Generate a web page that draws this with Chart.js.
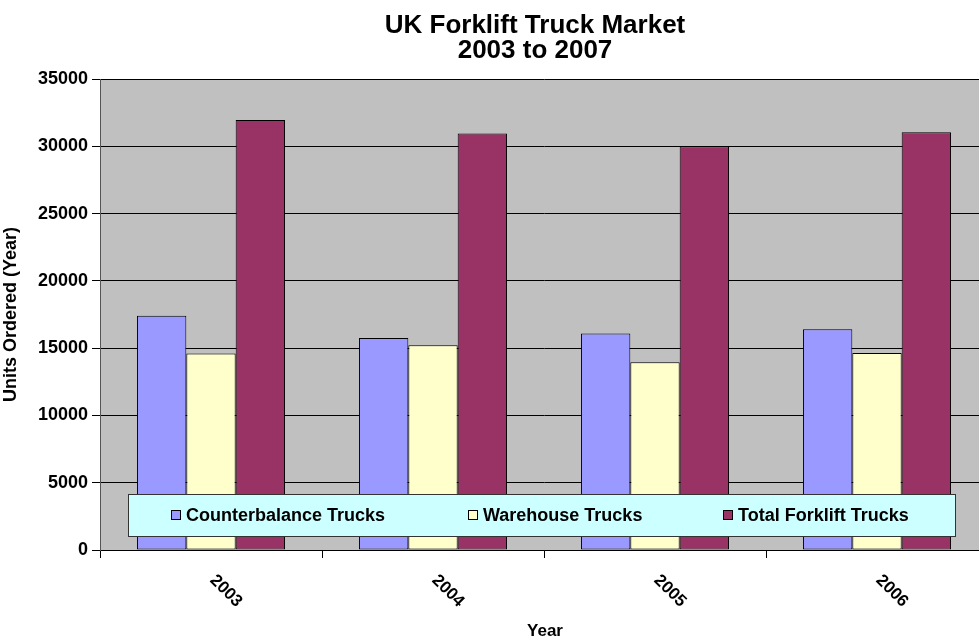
<!DOCTYPE html>
<html>
<head>
<meta charset="utf-8">
<script src="https://cdn.jsdelivr.net/npm/chart.js@4.4.1/dist/chart.umd.min.js"></script>
<style>
html,body{margin:0;padding:0;background:#fff;overflow:hidden;}
#wrap{width:988px;height:639px;position:relative;}
</style>
</head>
<body>
<div id="wrap"><canvas id="c"></canvas></div>
<script>
const titleLines = ['UK Forklift Truck Market', '2003 to 2007'];
const years = ['2003', '2004', '2005', '2006'];
const counterbalance = [17400, 15750, 16080, 16400];
const warehouse = [14600, 15220, 13950, 14640];
const totalTrucks = [31950, 30950, 30000, 31050];
const seriesNames = ['Counterbalance Trucks', 'Warehouse Trucks', 'Total Forklift Trucks'];
const yTicks = [0, 5000, 10000, 15000, 20000, 25000, 30000, 35000];
const yTitle = 'Units Ordered (Year)';
const xTitle = 'Year';

const FONT = '"Liberation Sans", Arial, sans-serif';
const colors = ['#9999FF', '#FFFFCC', '#993366'];

const bgPlugin = {
  id: 'plotBg',
  beforeDraw(chart) {
    const a = chart.chartArea, ctx = chart.ctx;
    ctx.save();
    ctx.fillStyle = '#C0C0C0';
    ctx.fillRect(a.left, a.top, a.right - a.left, a.bottom - a.top);
    ctx.restore();
  }
};

const decorPlugin = {
  id: 'decor',
  afterDraw(chart) {
    const a = chart.chartArea, ctx = chart.ctx;
    ctx.save();
    // title
    ctx.fillStyle = '#000';
    ctx.textAlign = 'center';
    ctx.textBaseline = 'alphabetic';
    ctx.font = 'bold 26px ' + FONT;
    ctx.fillText(titleLines[0], a.left + 435, 33);
    ctx.fillText(titleLines[1], a.left + 435, 58);
    // x labels rotated
    const xs = chart.scales.x;
    ctx.font = 'bold 17px ' + FONT;
    years.forEach((y, i) => {
      const px = xs.getPixelForValue(i) + 15;
      ctx.save();
      ctx.translate(px, a.bottom + 41);
      ctx.rotate(Math.PI / 4);
      ctx.textAlign = 'center';
      ctx.textBaseline = 'middle';
      ctx.fillText(y, 0, 0);
      ctx.restore();
    });
    // x title
    ctx.font = 'bold 17px ' + FONT;
    ctx.textBaseline = 'alphabetic';
    ctx.fillText(xTitle, a.left + 445, 636);
    // legend box
    const lx = a.left + 28, ly = a.top + 415, lw = a.right - a.left - 61, lh = 42;
    ctx.fillStyle = '#CCFFFF';
    ctx.fillRect(lx, ly, lw, lh);
    ctx.strokeStyle = '#333';
    ctx.lineWidth = 1;
    ctx.strokeRect(lx + 0.5, ly + 0.5, lw, lh);
    const itemX = [71, 368, 623];
    ctx.font = 'bold 18px ' + FONT;
    ctx.textAlign = 'left';
    ctx.textBaseline = 'middle';
    seriesNames.forEach((n, i) => {
      const bx = a.left + itemX[i], by = ly + lh / 2;
      ctx.fillStyle = colors[i];
      ctx.fillRect(bx, by - 5, 10, 10);
      ctx.strokeStyle = '#000';
      ctx.strokeRect(bx + 0.5, by - 4.5, 9, 9);
      ctx.fillStyle = '#000';
      ctx.fillText(n, bx + 15, by + 1);
    });
    ctx.restore();
  }
};

new Chart(document.getElementById('c'), {
  type: 'bar',
  data: {
    labels: years,
    datasets: [
      { label: seriesNames[0], data: counterbalance, backgroundColor: colors[0] },
      { label: seriesNames[1], data: warehouse, backgroundColor: colors[1] },
      { label: seriesNames[2], data: totalTrucks, backgroundColor: colors[2] }
    ].map(d => Object.assign(d, { borderColor: '#000', borderWidth: 1, borderSkipped: false }))
  },
  options: {
    responsive: true,
    maintainAspectRatio: false,
    animation: false,
    layout: { padding: { top: 79, right: 0, left: 0, bottom: 0 } },
    datasets: { bar: { categoryPercentage: 0.667, barPercentage: 1.0 } },
    plugins: { legend: { display: false }, title: { display: false }, tooltip: { enabled: false } },
    scales: {
      x: {
        offset: true,
        grid: { offset: true, drawOnChartArea: false, color: '#000', tickLength: 8 },
        border: { color: '#000' },
        ticks: { display: false },
        afterFit(s) { s.height = 89; }
      },
      y: {
        min: 0, max: 35000,
        afterBuildTicks(s) { s.ticks = yTicks.map(v => ({ value: v })); },
        ticks: { color: '#000', font: { family: FONT, size: 18, weight: 'bold' }, padding: 4, callback: v => String(v) },
        grid: { color: '#000', tickLength: 8 },
        border: { color: '#555' },
        title: { display: true, text: yTitle, color: '#000', font: { family: FONT, size: 18, weight: 'bold' }, padding: 0 },
        afterFit(s) { s.width = 100; }
      }
    }
  },
  plugins: [bgPlugin, decorPlugin]
});
</script>
</body>
</html>
